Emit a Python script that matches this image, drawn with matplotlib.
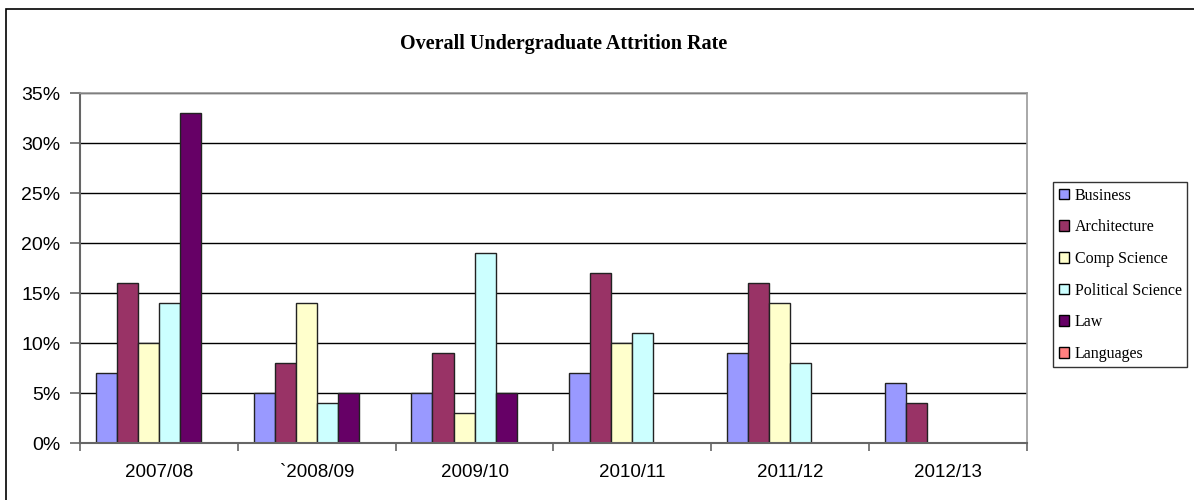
import matplotlib
matplotlib.use("Agg")
import matplotlib.pyplot as plt
import numpy as np
from matplotlib.patches import Rectangle, Patch
from matplotlib.ticker import FixedLocator, PercentFormatter

years = ["2007/08", "`2008/09", "2009/10", "2010/11", "2011/12", "2012/13"]
series_names = ["Business", "Architecture", "Comp Science", "Political Science", "Law", "Languages"]
business = [7, 5, 5, 7, 9, 6]
architecture = [16, 8, 9, 17, 16, 4]
comp_science = [10, 14, 3, 10, 14, 0]
political_science = [14, 4, 19, 11, 8, 0]
law = [33, 5, 5, 0, 0, 0]
languages = [0, 0, 0, 0, 0, 0]
colors = ["#9999FF", "#993366", "#FFFFCC", "#CCFFFF", "#660066", "#FF8080"]

series = [business, architecture, comp_science, political_science, law, languages]

fig = plt.figure(figsize=(11.94, 5.0), dpi=100)
ax = fig.add_axes([80/1194, 1-443/500, (1027-80)/1194, (443-93)/500])

n = len(series)
bw = 1/7.5
x = np.arange(len(years))
for i, (vals, c) in enumerate(zip(series, colors)):
    offs = (i - (n-1)/2) * bw
    ax.bar(x + offs, vals, width=bw, color=c, edgecolor="#222222", linewidth=1.0, zorder=3)

ax.set_xlim(-0.5, len(years) - 0.5)
ax.set_ylim(0, 35)
ax.yaxis.set_major_locator(FixedLocator(np.arange(0, 36, 5)))
ax.yaxis.set_major_formatter(PercentFormatter(decimals=0))
ax.grid(axis="y", color="black", linewidth=1.0, zorder=0)
ax.set_xticks(x)
ax.set_xticklabels(years)
ax.tick_params(axis="x", which="major", length=0, pad=15)
ax.set_xticks(np.arange(-0.5, len(years)), minor=True)
ax.tick_params(axis="x", which="minor", length=6, width=1.2, color="#666666")
ax.tick_params(axis="y", length=7, width=1.2, color="#666666", pad=7)
for lab in ax.get_xticklabels():
    lab.set_fontfamily("Liberation Sans")
    lab.set_fontsize(13.5)
for lab in ax.get_yticklabels():
    lab.set_fontfamily("Liberation Sans")
    lab.set_fontsize(14)
for side in ["left", "bottom"]:
    ax.spines[side].set_color("#666666")
    ax.spines[side].set_linewidth(1.5)
for side in ["top", "right"]:
    ax.spines[side].set_color("#999999")
    ax.spines[side].set_linewidth(1.2)
ax.spines["bottom"].set_zorder(4)

fig.text(564/1194, 1-44/500, "Overall Undergraduate Attrition Rate", ha="center", va="center",
         fontfamily="Liberation Serif", fontweight="bold", fontsize=14.5)

# outer chart border
fig.patches.append(Rectangle((6/1194, -0.1), 1.2, 1-9/500+0.1, transform=fig.transFigure,
                             fill=False, edgecolor="black", linewidth=1.2))

handles = [Patch(facecolor=c, edgecolor="black", linewidth=1.0) for c in colors]
leg = fig.legend(handles, series_names, loc="upper left",
                 bbox_to_anchor=(1053/1194, 1-182/500),
                 prop={"family": "Liberation Serif", "size": 11.5},
                 frameon=True, fancybox=False, edgecolor="black",
                 handlelength=0.65, handleheight=0.65, handletextpad=0.35,
                 labelspacing=0.98, borderpad=0.35, borderaxespad=0)
leg.get_frame().set_linewidth(1.0)

fig.savefig("out.png", dpi=100, facecolor="white")
